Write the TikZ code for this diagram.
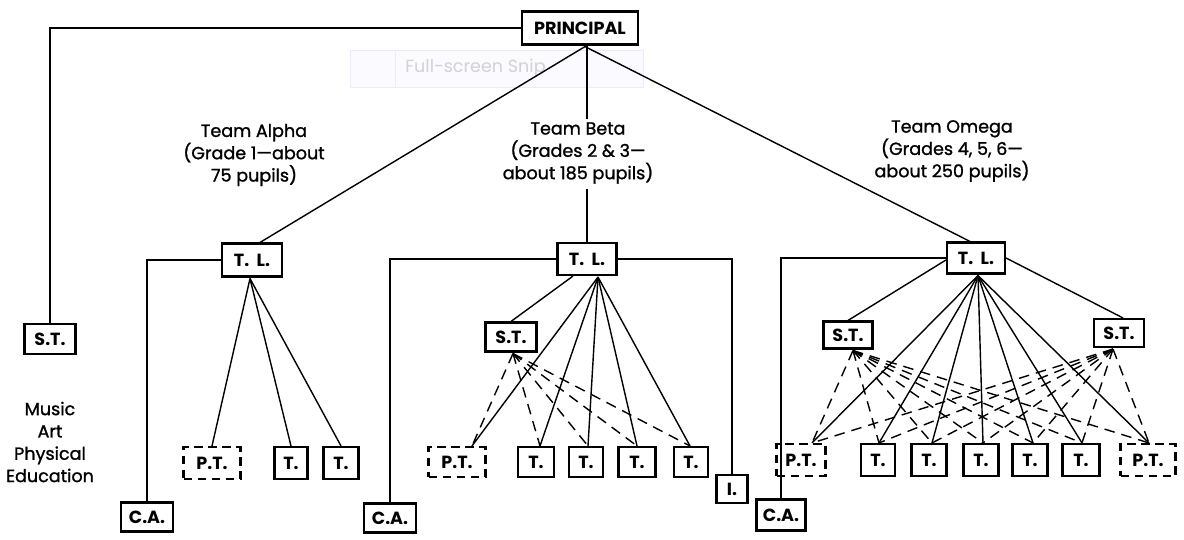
\documentclass[tikz,border=0pt]{standalone}
\usepackage{fontspec}
\setmainfont{Poppins}
\newfontfamily\lblfont{Poppins}[Ligatures=TeX,FakeBold=1.2]
\usetikzlibrary{calc}
\begin{document}
\begin{tikzpicture}[x=0.02cm,y=-0.02cm,
 box/.style={draw, fill=white, line width=1.2pt, inner sep=0pt, font=\bfseries\fontsize{10}{12}\selectfont},
 dbox/.style={box, dash pattern=on 5pt off 3pt},
 sz/.style 2 args={minimum width=#1*0.02cm, minimum height=#2*0.02cm},
 conn/.style={line width=0.8pt},
 dconn/.style={line width=0.8pt, dash pattern=on 6pt off 4pt},
 lbl/.style={align=center, inner sep=0pt, font=\lblfont\fontsize{10}{12.7}\selectfont}]
\useasboundingbox (0,0) rectangle (1184,539);
% screenshot overlay
\draw[fill=blue!2, draw=blue!8] (350,50) rectangle (643,87);
\draw[draw=blue!8] (395,50) -- (395,87);
\node[anchor=west, inner sep=0pt, text=gray!35, font=\fontsize{10}{12}\selectfont] (snip) at (405,68) {Full-screen Snip};

% nodes
\node[box,sz={116}{33}] (pr) at (580,28) {PRINCIPAL};
\node[box,sz={51}{30}] (sst) at (50,339) {S.T.};
\node[lbl] (mus) at (50,442) {Music\\Art\\Physical\\Education};

\node[lbl] (ta) at (254,155) {Team Alpha\\(Grade 1—about\\75 pupils)};
\node[lbl] (tb) at (578,153) {Team Beta\\(Grades 2 \& 3—\\about 185 pupils)};
\node[lbl] (to) at (952,151) {Team Omega\\(Grades 4, 5, 6—\\about 250 pupils)};

% Alpha
\node[box,sz={60}{33}] (atl) at (252,260) {T.\ \ L.};
\node[box,sz={52}{29}] (aca) at (147,517) {C.A.};
\node[dbox,sz={57}{32}] (apt) at (212,463) {P.T.};
\node[box,sz={33}{32}] (at1) at (291,463) {T.};
\node[box,sz={35}{32}] (at2) at (341,463) {T.};

% Beta
\node[box,sz={59}{32}] (btl) at (587,259) {T.\ \ L.};
\node[box,sz={52}{29}] (bca) at (390,518) {C.A.};
\node[box,sz={31}{28}] (bi) at (732,489) {I.};
\node[box,sz={51}{29}] (bst) at (511,337) {S.T.};
\node[dbox,sz={57}{30}] (bpt) at (457,462) {P.T.};
\node[box,sz={36}{30}] (bt1) at (536,462) {T.};
\node[box,sz={34}{30}] (bt2) at (586,462) {T.};
\node[box,sz={37}{30}] (bt3) at (637,462) {T.};
\node[box,sz={34}{30}] (bt4) at (691,462) {T.};

% Omega
\node[box,sz={58}{31}] (otl) at (976,258) {T.\ \ L.};
\node[box,sz={49}{31}] (oca) at (781,515) {C.A.};
\node[box,sz={49}{27}] (os1) at (848,335) {S.T.};
\node[box,sz={50}{28}] (os2) at (1119,333) {S.T.};
\node[dbox,sz={49}{32}] (op1) at (801,460) {P.T.};
\node[box,sz={34}{32}] (ot1) at (878,460) {T.};
\node[box,sz={35}{32}] (ot2) at (929,460) {T.};
\node[box,sz={35}{32}] (ot3) at (981,460) {T.};
\node[box,sz={35}{32}] (ot4) at (1030,460) {T.};
\node[box,sz={37}{32}] (ot5) at (1081,460) {T.};
\node[dbox,sz={55}{32}] (op2) at (1148,460) {P.T.};

% connectors from principal
\coordinate (prb) at ($(pr.south)+(5,1)$);
\draw[conn] (pr.west) -| (sst.north);
\draw[conn] (prb) -- ($(atl.north)+(8,0)$);
\draw[conn] (prb) -- ($(otl.north)+(-6,0)$);
\draw[conn] (pr.south -| btl.north) -- ($(tb.north -| btl.north)+(0,-3)$);
\draw[conn] ($(tb.south -| btl.north)+(0,5)$) -- (btl.north);

% Alpha connectors
\coordinate (ap) at ($(atl.south)+(-2,1)$);
\draw[conn] (atl.west) -| (aca.north);
\draw[conn] (ap) -- (apt.north);
\draw[conn] (ap) -- (at1.north);
\draw[conn] (ap) -- (at2.north);

% Beta connectors
\coordinate (bp) at ($(btl.south)+(11,1)$);
\coordinate (bs) at ($(bst.south)+(2,1)$);
\draw[conn] (btl.west) -| (bca.north);
\draw[conn] (btl.east) -| (bi.north);
\draw[conn] ($(btl.south)+(-14,0)$) -- (bst.north);
\foreach \n/\o in {bpt/15,bt1/4,bt2/2,bt3/0,bt4/-1}{
  \draw[conn] (bp) -- ($(\n.north)+(\o,0)$);
  \draw[dconn] (bs) -- ($(\n.north)+(\o,0)$);
}

% Omega connectors
\coordinate (op) at ($(otl.south)+(2,1)$);
\coordinate (s1) at ($(os1.south)+(5,1)$);
\coordinate (s2) at ($(os2.south)+(-6,1)$);
\draw[conn] (otl.west) -| (oca.north);
\draw[conn] ($(otl.west)+(0,2)$) -- (os1.north);
\draw[conn] (otl.east) -- ($(os2.north)+(4,0)$);
\foreach \n/\o in {op1/11,ot1/1,ot2/3,ot3/2,ot4/3,ot5/1,op2/1}{
  \draw[conn] (op) -- ($(\n.north)+(\o,0)$);
  \draw[dconn] (s1) -- ($(\n.north)+(\o,0)$);
  \draw[dconn] (s2) -- ($(\n.north)+(\o,0)$);
}
\end{tikzpicture}
\end{document}
